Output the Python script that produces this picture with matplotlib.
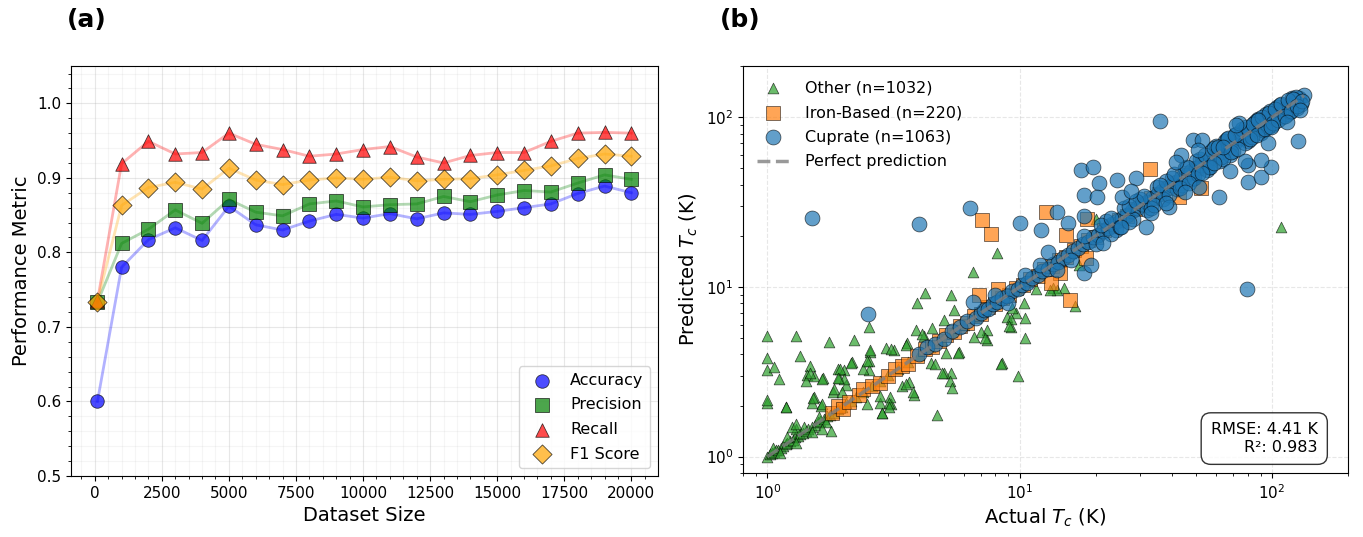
import matplotlib
matplotlib.use('Agg')
import matplotlib.pyplot as plt
from matplotlib.ticker import AutoMinorLocator

# ---- panel (a): metrics vs dataset size
sizes = [100, 1000, 2000, 3000, 4000, 5000, 6000, 7000, 8000, 9000, 10000,
         11000, 12000, 13000, 14000, 15000, 16000, 17000, 18000, 19000, 20000]
accuracy = [0.600, 0.780, 0.817, 0.833, 0.816, 0.862, 0.837, 0.830, 0.842, 0.851, 0.846,
            0.852, 0.845, 0.853, 0.851, 0.855, 0.860, 0.865, 0.879, 0.889, 0.880]
precision = [0.733, 0.812, 0.831, 0.857, 0.839, 0.871, 0.854, 0.849, 0.865, 0.869, 0.861,
             0.864, 0.865, 0.875, 0.868, 0.877, 0.883, 0.881, 0.893, 0.904, 0.898]
recall = [0.735, 0.919, 0.949, 0.932, 0.934, 0.960, 0.945, 0.938, 0.929, 0.932, 0.938,
          0.942, 0.928, 0.920, 0.930, 0.934, 0.934, 0.949, 0.960, 0.961, 0.960]
f1 = [0.734, 0.863, 0.887, 0.894, 0.885, 0.913, 0.897, 0.891, 0.897, 0.900, 0.898,
      0.901, 0.896, 0.898, 0.899, 0.904, 0.910, 0.916, 0.926, 0.932, 0.929]

# ---- panel (b): actual vs predicted Tc
cu_actual = [4.0, 4.3, 4.6, 5.0, 5.4, 5.8, 6.2, 6.7, 7.0, 7.2, 7.5, 7.8, 8.1, 8.5, 8.9, 9.3, 9.8,
             10.2, 10.7, 11.2, 11.8, 12.3, 12.9, 13.5, 14.2, 14.8, 15.5, 16.2, 17.0, 17.8, 18.6,
             19.5, 20.4, 21.3, 22.3, 23.3, 24.4, 25.5, 26.7, 27.9, 29.2, 30.5, 31.9, 33.4, 34.9,
             36.5, 38.2, 40.0, 41.8, 43.7, 45.7, 47.8, 50.0, 52.3, 54.7, 57.2, 59.8, 62.5, 65.4,
             68.4, 71.5, 74.8, 78.2, 81.8, 85.5, 89.4, 93.5, 97.8, 102, 107, 112, 117, 122, 128, 134,
             16, 18, 20, 22, 24, 26, 28, 30, 32, 35, 37, 40, 42, 45, 48, 52, 55, 58, 62, 65, 70, 75,
             80, 85, 90, 95, 100, 105, 110, 120, 125, 60, 68, 72, 78, 88, 92, 98, 115, 130, 23, 27,
             33, 38, 44, 50, 56, 63, 66, 83, 86, 96, 108, 118, 124,
             21, 23, 25, 27, 29, 31, 34, 36, 39, 41, 43, 46, 49, 51, 54, 57, 59, 61, 64, 67, 69, 73,
             76, 79, 82, 84, 87, 91, 94, 97, 101, 103, 106, 109, 113, 116, 119, 121, 126, 131, 47,
             53, 71, 88, 99, 14, 12, 10.5, 9, 8,
             1.5, 4.0, 2.5, 6.35, 10.0, 12.1, 14.0, 15.6, 18.0, 36.0, 79.5, 127, 17.5, 19.5, 20.6,
             17.9, 20.2, 24.3, 25.5, 29.0, 48.5, 53.0, 50.7, 43.5, 41.6, 61.8, 80.5, 90.4, 99.0,
             90.4, 80.0, 115, 96, 74, 58.9, 51.3, 33.1, 31.6, 39.0, 13.0, 17.9, 19.1, 21.3, 25.2,
             6.5, 129, 64, 72, 68, 78, 27.5, 38, 45]
cu_pred = [4.0, 4.4, 4.6, 4.9, 5.5, 5.8, 6.3, 6.6, 7.0, 7.3, 7.4, 7.9, 8.1, 8.6, 8.8, 9.4, 9.7,
           10.3, 10.6, 11.3, 11.7, 12.4, 12.8, 13.6, 14.1, 14.9, 15.4, 16.3, 16.9, 17.9, 18.5,
           19.6, 20.3, 21.4, 22.2, 23.4, 24.3, 25.6, 26.6, 28.0, 29.1, 30.6, 31.8, 33.5, 34.8,
           36.6, 38.1, 40.1, 41.7, 43.8, 45.6, 47.9, 49.9, 52.4, 54.6, 57.3, 59.7, 62.6, 65.3,
           68.5, 71.4, 74.9, 78.1, 81.9, 85.4, 89.5, 93.4, 97.9, 101, 108, 111, 118, 121, 129, 135,
           14.5, 20, 18, 24.5, 21.5, 29, 25, 33, 28.5, 39, 33, 44, 37.5, 50, 43, 57, 49, 64, 55, 72,
           63, 82, 72, 93, 81, 104, 90, 115, 100, 130, 113, 68, 60, 80, 70, 97, 84, 108, 104, 120,
           20.5, 30, 29, 42, 40, 55, 51, 58, 74, 76, 95, 88, 118, 107, 132,
           23, 25.5, 22.5, 24, 32, 34.5, 30.5, 40, 35, 46, 38.5, 51, 44, 46, 60, 51, 66, 67, 57, 75,
           62, 65, 85, 88, 74, 91, 78, 100, 85, 106, 92, 112, 96, 120, 102, 126, 108, 128, 116,
           124, 41, 47, 79, 96, 88, 12.5, 13.5, 11.8, 8, 9,
           25.5, 23.6, 6.9, 29.0, 23.9, 21.7, 27.8, 23.9, 26.2, 95.0, 9.7, 72.6, 48.8, 50.8, 40.9,
           34.8, 34.0, 42.6, 34.0, 43.8, 73.2, 73.7, 64.0, 59.8, 54.6, 34.0, 41.6, 44.5, 50.6,
           55.9, 52.5, 93.9, 70.0, 91.8, 53.6, 38.9, 27.2, 22.6, 29.7, 16.1, 12.1, 13.5, 18.1, 22.6,
           8.2, 110, 67, 90, 48, 55, 36.5, 31, 36]

fe_actual = [1.8, 1.9, 2.0, 2.1, 2.3, 2.4, 2.6, 2.8, 3.0, 3.2, 3.4, 3.6, 3.9, 4.2, 4.5, 4.8, 5.1,
             5.5, 5.8, 6.2, 6.6, 7.0, 7.5, 8.0, 8.5, 9.1, 9.7, 10.3, 11.0, 11.8, 12.5, 13.4, 14.3,
             15.3, 16.4, 17.5, 18.7, 20, 21.5, 23, 24.7, 26.5, 28.5, 30.6, 33, 35.5, 38, 41, 44,
             47, 50, 53,
             32.9, 12.7, 15.2, 15.8, 52.3, 42.9, 18.4, 18.3, 14.5, 7.1, 7.67, 6.9, 13.3, 8.2]
fe_pred = [1.8, 2.0, 1.9, 2.1, 2.3, 2.5, 2.6, 2.7, 3.0, 3.3, 3.4, 3.5, 3.9, 4.3, 4.4, 4.8, 5.2,
           5.4, 5.9, 6.1, 6.7, 6.9, 7.6, 7.9, 8.6, 9.0, 9.8, 10.2, 11.1, 11.6, 12.7, 13.2, 14.5,
           15.1, 16.6, 17.3, 18.9, 19.8, 21.7, 22.8, 24.9, 26.3, 28.7, 30.4, 33.2, 35.3, 38.2,
           40.8, 44.3, 46.7, 50.3, 52.6,
           49.3, 27.7, 20.2, 8.4, 38.0, 34.0, 25.0, 14.8, 12.1, 24.8, 20.5, 9.0, 10.6, 9.7]

ot_actual = [1.0, 1.02, 1.04, 1.06, 1.08, 1.1, 1.13, 1.15, 1.18, 1.2, 1.23, 1.26, 1.29, 1.32, 1.35,
             1.38, 1.42, 1.45, 1.5, 1.54, 1.58, 1.62, 1.67, 1.72, 1.77, 1.83, 1.9, 1.97, 2.05, 2.15,
             2.25, 2.4, 2.6, 2.8, 3.0, 3.3, 3.6, 4.0, 4.4, 4.9, 5.4, 6.0, 6.6, 7.3, 8.0, 8.8, 9.7,
             10.7, 11.8, 13, 14.5, 16, 18, 20,
             1.05, 1.12, 1.2, 1.3, 1.4, 1.5, 1.6, 1.7, 1.3, 1.25, 1.65,
             109, 20, 13.5, 15, 17.2, 16.5, 8.1, 6.55, 4.21, 3.93, 5.32, 5.49, 5.0, 3.87, 4.5, 4.17,
             2.94, 3.17, 3.58, 2.56, 5.74, 8.94, 9.64, 9.2, 10.5, 10.4, 7.44, 7.0, 7.44, 8.54, 9.8,
             14.0, 13.2, 11.6, 5.32, 5.0, 2.52, 1.0, 1.3, 1.76, 2.21, 2.54, 1.0, 1.35, 1.0, 1.06,
             1.11, 1.48, 1.44, 1.42, 1.53, 1.66, 1.91, 2.02, 2.17, 1.93, 2.04, 2.52, 2.52, 1.0, 1.0,
             1.19, 1.53, 1.5, 1.63, 1.82, 1.3, 1.78, 2.85, 3.08, 2.8, 3.05, 3.81, 4.71, 3.64, 3.4,
             3.1, 3.53, 4.43, 4.6, 4.1, 10.5, 9.2, 9.3, 7.3, 6.6, 9.1, 5.1, 5.7, 4.9, 5.3, 5.4,
             3.55, 3.77, 3.02, 2.84, 8.45, 1.18, 1.47, 1.65, 1.52, 1.65, 1.94, 2.02, 1.83, 2.14,
             1.9, 2.39, 2.47, 1.98, 2.47, 2.79, 3.02]
ot_pred = [1.0, 1.03, 1.05, 1.06, 1.09, 1.1, 1.12, 1.16, 1.18, 1.21, 1.23, 1.25, 1.3, 1.32, 1.36,
           1.38, 1.41, 1.46, 1.5, 1.53, 1.59, 1.62, 1.66, 1.73, 1.77, 1.82, 1.91, 1.96, 2.06, 2.14,
           2.26, 2.39, 2.62, 2.78, 3.02, 3.28, 3.62, 3.98, 4.42, 4.88, 5.43, 5.97, 6.63, 7.27,
           8.04, 8.76, 9.74, 10.68, 11.84, 12.95, 14.56, 15.9, 18.1, 19.9,
           1.12, 1.05, 1.3, 1.2, 1.5, 1.4, 1.72, 1.6, 1.45, 1.5, 1.45,
           22.6, 25, 9.8, 9.8, 13.5, 7.7, 15.9, 12.3, 9.26, 8.0, 9.0, 7.3, 6.4, 5.6, 5.7, 5.15,
           4.36, 4.26, 4.66, 4.16, 4.16, 6.69, 7.0, 5.84, 5.0, 8.0, 5.6, 5.4, 4.88, 3.56, 2.97,
           9.6, 9.6, 9.7, 3.1, 3.1, 5.8, 5.17, 5.17, 4.73, 4.88, 4.26, 3.8, 3.94, 3.25, 3.37,
           2.86, 3.43, 3.04, 2.8, 3.0, 2.9, 3.28, 3.25, 3.59, 2.9, 2.65, 3.68, 3.25, 2.07, 2.15,
           1.96, 2.25, 2.07, 2.0, 2.39, 1.56, 1.41, 1.81, 2.05, 2.07, 2.25, 2.32, 1.77, 2.77, 2.6,
           4.3, 4.56, 3.56, 3.5, 5.3, 6.6, 6.5, 7.5, 5.0, 5.1, 5.9, 4.1, 4.1, 3.13, 2.8, 2.55,
           2.67, 2.39, 2.08, 1.82, 3.53, 1.95, 3.13, 2.86, 2.23, 2.04, 3.27, 2.86, 2.5, 3.58,
           2.9, 3.27, 3.66, 2.39, 2.04, 2.28, 1.95]

n_other, n_iron, n_cuprate = 1032, 220, 1063
rmse, r2 = 4.41, 0.983

fig = plt.figure(figsize=(13.63, 5.37), dpi=100)
ax1 = fig.add_axes([0.0519, 0.1136, 0.4309, 0.7634])
ax2 = fig.add_axes([0.5451, 0.1190, 0.4439, 0.7580])

series = [(accuracy, 'Accuracy', 'blue', 'o'),
          (precision, 'Precision', 'green', 's'),
          (recall, 'Recall', 'red', '^'),
          (f1, 'F1 Score', 'orange', 'D')]
for vals, name, col, mk in series:
    ax1.plot(sizes, vals, color=col, alpha=0.3, linewidth=2)
for vals, name, col, mk in series:
    ax1.scatter(sizes, vals, color=col, marker=mk, s=95, alpha=0.7,
                edgecolors='black', linewidths=0.6, label=name, zorder=3)

ax1.set_ylim(0.5, 1.05)
ax1.set_xticks(range(0, 20001, 2500))
ax1.xaxis.set_minor_locator(AutoMinorLocator(5))
ax1.yaxis.set_minor_locator(AutoMinorLocator(5))
ax1.grid(True, which='major', alpha=0.3)
ax1.grid(True, which='minor', alpha=0.12)
ax1.set_axisbelow(True)
ax1.set_xlabel('Dataset Size', fontsize=14)
ax1.set_ylabel('Performance Metric', fontsize=14)
ax1.tick_params(labelsize=11)
ax1.legend(loc='lower right', fontsize=11.5, scatterpoints=1, labelspacing=0.6)

ax2.scatter(ot_actual, ot_pred, marker='^', s=60, color='tab:green', alpha=0.7,
            edgecolors='black', linewidths=0.5, label=f'Other (n={n_other})')
ax2.scatter(fe_actual, fe_pred, marker='s', s=110, color='tab:orange', alpha=0.7,
            edgecolors='black', linewidths=0.5, label=f'Iron-Based (n={n_iron})')
ax2.scatter(cu_actual, cu_pred, marker='o', s=115, color='tab:blue', alpha=0.7,
            edgecolors='black', linewidths=0.5, label=f'Cuprate (n={n_cuprate})')
lo = min(ot_actual + fe_actual + cu_actual)
hi = max(ot_actual + fe_actual + cu_actual)
ax2.plot([lo, hi], [lo, hi], '--', color='gray', alpha=0.8, linewidth=2.5,
         label='Perfect prediction')
ax2.set_xscale('log')
ax2.set_yscale('log')
ax2.set_xlim(0.8, 200)
ax2.set_ylim(0.8, 200)
ax2.grid(True, which='major', linestyle='--', alpha=0.3)
ax2.set_axisbelow(True)
ax2.set_xlabel('Actual $T_c$ (K)', fontsize=14)
ax2.set_ylabel('Predicted $T_c$ (K)', fontsize=14)
ax2.tick_params(labelsize=11)
ax2.legend(loc='upper left', fontsize=11.5, frameon=False, scatterpoints=1,
           labelspacing=0.6, handletextpad=1.0)
ax2.text(0.95, 0.045, f'RMSE: {rmse:.2f} K\nR²: {r2:.3f}', transform=ax2.transAxes,
         ha='right', va='bottom', fontsize=11.5, multialignment='right',
         bbox=dict(boxstyle='round,pad=0.6', facecolor='white', edgecolor='black', alpha=0.8))

fig.text(0.049, 0.963, '(a)', fontsize=18, fontweight='bold', va='center')
fig.text(0.528, 0.963, '(b)', fontsize=18, fontweight='bold', va='center')

fig.savefig('out.png', dpi=100)
